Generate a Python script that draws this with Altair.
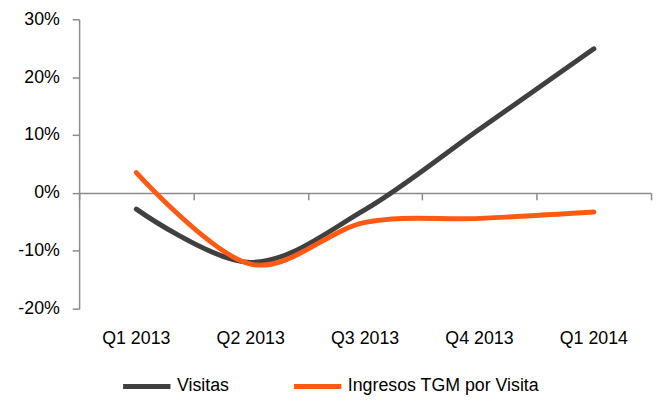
import altair as alt
import pandas as pd

quarters = ["Q1 2013", "Q2 2013", "Q3 2013", "Q4 2013", "Q1 2014"]
visitas = [-2.8, -12.0, -2.9, 11.0, 24.9]
ingresos = [3.5, -12.3, -5.1, -4.4, -3.3]
series_names = ["Visitas", "Ingresos TGM por Visita"]
series_colors = ["#404040", "#FF5A14"]
y_ticks = [-20, -10, 0, 10, 20, 30]

rows = []
for q, v in zip(quarters, visitas):
    rows.append({"quarter": q, "value": v, "serie": series_names[0]})
for q, v in zip(quarters, ingresos):
    rows.append({"quarter": q, "value": v, "serie": series_names[1]})
df = pd.DataFrame(rows)

FONT = "Liberation Sans, Arial, sans-serif"
FS = 18
W, H = 579, 293

xscale = alt.Scale(type="band", domain=quarters, paddingInner=0, paddingOuter=0)
yscale = alt.Scale(domain=[-20, 30], nice=False, zero=False)

zero_axis = alt.Chart(df).mark_point(opacity=0).encode(
    x=alt.X("quarter:N", sort=quarters, scale=xscale,
            axis=alt.Axis(title=None, orient="bottom", offset=-(H * 2 / 5), labels=False,
                          domain=True, ticks=True, tickBand="extent",
                          domainColor="#8C8C8C", domainWidth=1.5,
                          tickColor="#8C8C8C", tickWidth=1.5, tickSize=7)),
    y=alt.Y("value:Q", scale=yscale,
            axis=alt.Axis(title=None, values=y_ticks, labelExpr="datum.value + '%'",
                          grid=False, domainColor="#8C8C8C", domainWidth=1.5,
                          tickColor="#8C8C8C", tickWidth=1.5, tickSize=7,
                          labelPadding=13, labelFontSize=FS, labelFont=FONT,
                          labelColor="#000000")),
)

lines = alt.Chart(df).mark_line(
    strokeWidth=5, interpolate="cardinal", strokeCap="round", strokeJoin="round"
).encode(
    x=alt.X("quarter:N", sort=quarters, scale=xscale, bandPosition=0.5,
            axis=alt.Axis(title=None, orient="bottom", domain=False, ticks=False,
                          labelAngle=0, labelPadding=21, labelFontSize=FS,
                          labelFont=FONT, labelColor="#000000")),
    y=alt.Y("value:Q", scale=yscale),
    color=alt.Color("serie:N", sort=series_names,
                    scale=alt.Scale(domain=series_names, range=series_colors),
                    legend=alt.Legend(title=None, orient="none", legendX=42, legendY=345,
                                      direction="horizontal", symbolType="stroke",
                                      symbolSize=2304, symbolStrokeWidth=5,
                                      labelFontSize=FS, labelFont=FONT,
                                      labelColor="#000000", labelOffset=4,
                                      columnPadding=55, labelLimit=400)),
)

chart = alt.layer(zero_axis, lines).resolve_axis(x="independent").properties(
    width=W, height=H,
    autosize=alt.AutoSizeParams(type="none"),
    padding={"left": 72, "top": 9, "right": 2, "bottom": 86},
).configure(background="white").configure_view(stroke=None)

chart.save("out.html", embed_options={"renderer": "svg", "actions": False})
